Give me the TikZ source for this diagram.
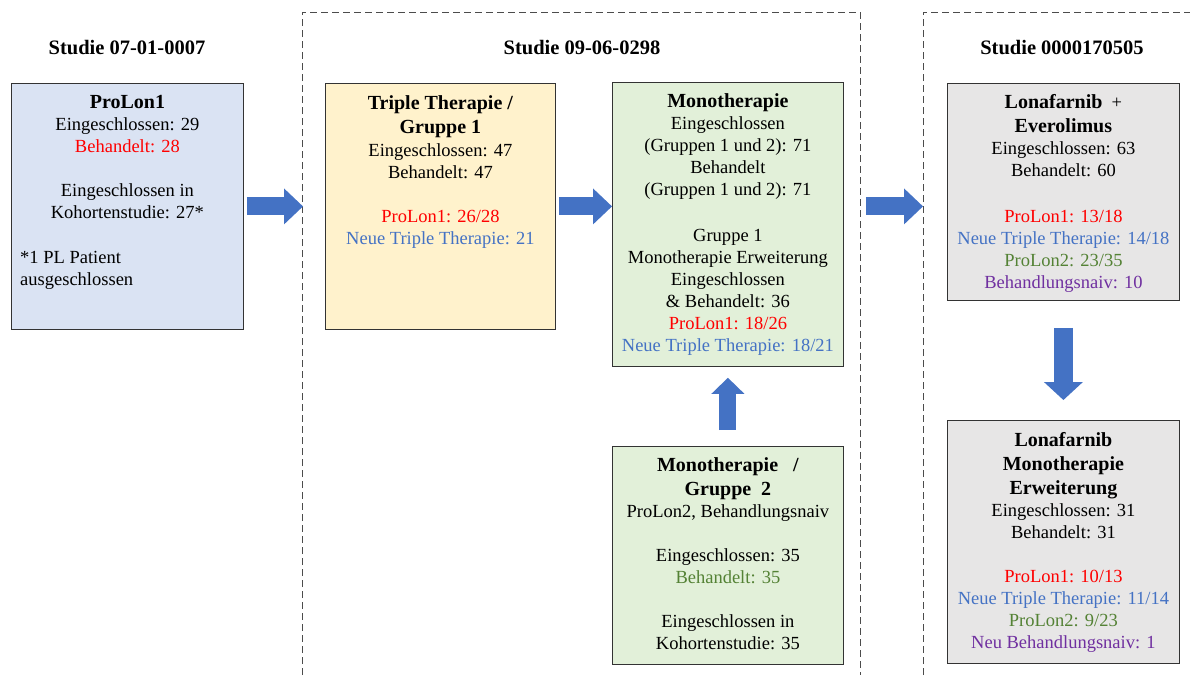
\documentclass[tikz,border=0pt]{standalone}
\usepackage{fontspec}
\setmainfont{Liberation Serif}
\usetikzlibrary{arrows.meta,positioning,calc}
\definecolor{fillblue}{HTML}{DAE3F3}
\definecolor{fillyellow}{HTML}{FFF2CC}
\definecolor{fillgreen}{HTML}{E2F0D9}
\definecolor{fillgray}{HTML}{E7E6E6}
\definecolor{arrowblue}{HTML}{4472C4}
\definecolor{txtred}{HTML}{FF0000}
\definecolor{txtblue}{HTML}{4472C4}
\definecolor{txtgreen}{HTML}{548235}
\definecolor{txtpurple}{HTML}{7030A0}
\newcommand{\bodyfont}{\fontsize{18.5}{22}\selectfont}
\newcommand{\hd}[1]{{\fontsize{20}{22}\selectfont\bfseries #1}}
\begin{document}
\begin{tikzpicture}[x=1pt,y=-1pt,
  box/.style={draw=black!80, line width=0.8pt, anchor=north west, inner sep=0pt},
  txt/.style={anchor=north, inner sep=0pt, align=center, font=\bodyfont},
  title/.style={inner sep=0pt, font=\fontsize{20.5}{24}\selectfont\bfseries},
  frame/.style={draw=black!70, dash pattern=on 7pt off 4pt, line width=0.8pt}]
\useasboundingbox (0,0) rectangle (1190,675);

% study frames
\draw[frame] (302,675) -- (302,12) -- (860,12) -- (860,675);
\draw[frame] (923,675) -- (923,12) -- (1190,12);

\node[title] (title1) at (127,48) {Studie 07-01-0007};
\node[title] (title2) at (582,48) {Studie 09-06-0298};
\node[title] (title3) at (1062,48) {Studie 0000170505};

\begin{scope}[every node/.style = {box}]
\node[fill=fillblue, minimum width=232pt, minimum height=246pt] (proA) at (11,83) {};
\node[fill=fillyellow, minimum width=230pt, minimum height=246pt] (triple) at (325,83) {};
\node[fill=fillgreen, minimum width=231pt, minimum height=284pt] (mono) at (612,82) {};
\node[fill=fillgreen, minimum width=231pt, minimum height=218pt] (monoB) at (612,446) {};
\node[fill=fillgray, minimum width=232pt, minimum height=217pt] (lonaA) at (947,83) {};
\node[fill=fillgray, minimum width=232pt, minimum height=243pt] (lonaB) at (947,420) {};
\end{scope}

\begin{scope}[every node/.style = {txt}]
\node (proAtxt) at ([yshift=-12.5pt]proA.north) {\hd{ProLon1}\\
  Eingeschlossen: 29\\ \textcolor{txtred}{Behandelt: 28}\\[22pt]
  Eingeschlossen in\\ Kohortenstudie: 27*};
\node[anchor=north west, align=left] (proAnote) at (20,251) {*1 PL Patient\\ ausgeschlossen};
\node (tripletxt) at ([yshift=-12.5pt]triple.north) {\hd{Triple Therapie /}\\[2pt]
  \hd{Gruppe 1}\\[1pt] Eingeschlossen: 47\\ Behandelt: 47\\[22pt]
  \textcolor{txtred}{ProLon1: 26/28}\\ \textcolor{txtblue}{Neue Triple Therapie: 21}};
\node (monotxt) at ([yshift=-11.5pt]mono.north) {\hd{Monotherapie}\\
  Eingeschlossen\\ (Gruppen 1 und 2): 71\\ Behandelt\\ (Gruppen 1 und 2): 71\\[24pt]
  Gruppe 1\\ Monotherapie Erweiterung\\ Eingeschlossen\\ \& Behandelt: 36\\
  \textcolor{txtred}{ProLon1: 18/26}\\ \textcolor{txtblue}{Neue Triple Therapie: 18/21}};
\node (monoBtxt) at ([yshift=-11.5pt]monoB.north) {\hd{Monotherapie\ \ \ /}\\[2pt]
  \hd{Gruppe\ \ 2}\\ ProLon2, Behandlungsnaiv\\[22pt]
  Eingeschlossen: 35\\ \textcolor{txtgreen}{Behandelt: 35}\\[22pt]
  Eingeschlossen in\\ Kohortenstudie: 35};
\node (lonaAtxt) at ([yshift=-11.5pt]lonaA.north) {\hd{Lonafarnib}\ \ +\\[2pt]
  \hd{Everolimus}\\ Eingeschlossen: 63\\ Behandelt: 60\\[24pt]
  \textcolor{txtred}{ProLon1: 13/18}\\ \textcolor{txtblue}{Neue Triple Therapie: 14/18}\\
  \textcolor{txtgreen}{ProLon2: 23/35}\\ \textcolor{txtpurple}{Behandlungsnaiv: 10}};
\node (lonaBtxt) at ([yshift=-12.5pt]lonaB.north) {\hd{Lonafarnib}\\[2pt]
  \hd{Monotherapie}\\[2pt] \hd{Erweiterung}\\ Eingeschlossen: 31\\ Behandelt: 31\\[22pt]
  \textcolor{txtred}{ProLon1: 10/13}\\ \textcolor{txtblue}{Neue Triple Therapie: 11/14}\\
  \textcolor{txtgreen}{ProLon2: 9/23}\\ \textcolor{txtpurple}{Neu Behandlungsnaiv: 1}};
\end{scope}

\begin{scope}[every edge/.style = {draw=arrowblue, line width=18pt,
    -{Triangle[width=36pt, length=19pt, line width=0pt]}}]
\path (proA.east) edge[shorten <=3pt, shorten >=22pt] (triple.west);
\path (triple.east) edge[shorten <=3pt] (triple.east -| mono.west);
\path (mono.east |- triple.east) edge[shorten <=22pt, shorten >=24pt] (triple.east -| lonaA.west);
\path (monoB.north) edge[line width=17pt, -{Triangle[width=33pt, length=16pt, line width=0pt]},
  shorten <=16pt, shorten >=11pt] (mono.south);
\path (lonaA.south) edge[line width=19pt, -{Triangle[width=39pt, length=18pt, line width=0pt]},
  shorten <=27pt, shorten >=20pt] (lonaB.north);
\end{scope}
\end{tikzpicture}
\end{document}
